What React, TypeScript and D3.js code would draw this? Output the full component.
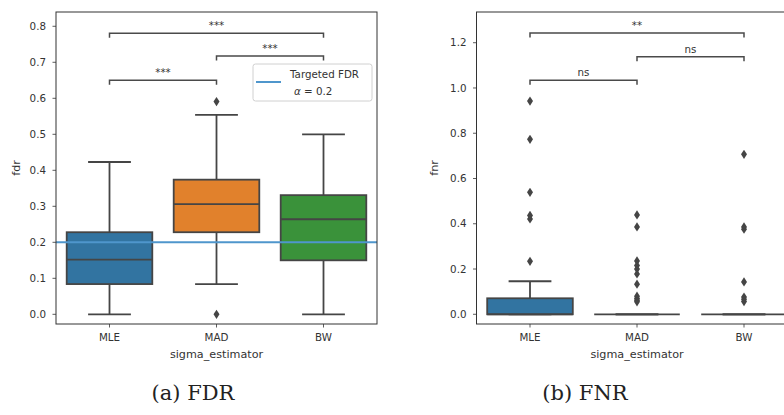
import React from "react";
import * as d3 from "d3";

// Estimators compared on the x axis
const categories = ["MLE", "MAD", "BW"];

// FDR box statistics per estimator
const fdrWhiskerLow = [0.0, 0.084, 0.0];
const fdrQ1 = [0.084, 0.228, 0.15];
const fdrMedian = [0.152, 0.306, 0.264];
const fdrQ3 = [0.228, 0.374, 0.331];
const fdrWhiskerHigh = [0.423, 0.554, 0.5];
const fdrOutliers = [[], [0.591, 0.0], []];
const fdrTicks = [0, 0.1, 0.2, 0.3, 0.4, 0.5, 0.6, 0.7, 0.8];
const fdrTarget = 0.2;

// FNR box statistics per estimator
const fnrWhiskerLow = [0.0, 0.0, 0.0];
const fnrQ1 = [0.0, 0.0, 0.0];
const fnrMedian = [0.0, 0.0, 0.0];
const fnrQ3 = [0.0707, 0.0, 0.0];
const fnrWhiskerHigh = [0.146, 0.0, 0.0];
const fnrOutliers = [
  [0.942, 0.773, 0.539, 0.437, 0.421, 0.234],
  [0.439, 0.386, 0.236, 0.216, 0.2, 0.178, 0.133, 0.08, 0.07, 0.062, 0.055],
  [0.707, 0.386, 0.376, 0.143, 0.076, 0.066, 0.056],
];
const fnrTicks = [0, 0.2, 0.4, 0.6, 0.8, 1.0, 1.2];

// Significance brackets: pairs of category indexes, labels and heights
const fdrPairs = [[0, 1], [1, 2], [0, 2]];
const fdrPairLabels = ["***", "***", "***"];
const fdrPairLevels = [0.65, 0.7175, 0.781];
const fnrPairs = [[0, 1], [1, 2], [0, 2]];
const fnrPairLabels = ["ns", "ns", "**"];
const fnrPairLevels = [1.034, 1.138, 1.243];

const palette = ["#3274a1", "#e1812c", "#3a923a"];
const lineGray = "#454545";
const axisColor = "#333333";
const textColor = "#333333";
const refBlue = "#4f96cc";
const sansFont = "'DejaVu Sans', sans-serif";
const tickSize = 10.3;
const labelSize = 11.2;

type PanelProps = {
  x0: number;
  x1: number;
  y0: number;
  y1: number;
  yDomain: [number, number];
  ticks: number[];
  lo: number[];
  q1: number[];
  med: number[];
  q3: number[];
  hi: number[];
  outliers: number[][];
  pairs: number[][];
  pairLabels: string[];
  pairLevels: number[];
  yLabel: string;
  yLabelX: number;
  target?: number;
};

function diamondPath(cx: number, cy: number) {
  const w = 3;
  const h = 4.6;
  return `M${cx},${cy - h}L${cx + w},${cy}L${cx},${cy + h}L${cx - w},${cy}Z`;
}

function Panel(p: PanelProps) {
  const x = d3.scaleBand<string>().domain(categories).range([p.x0, p.x1]).padding(0);
  const y = d3.scaleLinear().domain(p.yDomain).range([p.y1, p.y0]);
  const bw = x.bandwidth();
  const boxW = bw * 0.8;
  const capW = bw * 0.4;
  const cx = (i: number) => (x(categories[i]) as number) + bw / 2;
  const fmt = d3.format(".1f");
  const clipId = `clip-${p.yLabel}`;

  return (
    <g>
      <defs>
        <clipPath id={clipId}>
          <rect x={p.x0} y={p.y0} width={p.x1 - p.x0} height={p.y1 - p.y0} />
        </clipPath>
      </defs>

      {/* boxes, whiskers, medians */}
      <g clipPath={`url(#${clipId})`}>
        {categories.map((c, i) => {
          const xc = cx(i);
          return (
            <g key={c}>
              <line x1={xc} x2={xc} y1={y(p.q3[i])} y2={y(p.hi[i])} stroke={lineGray} strokeWidth={1.8} />
              <line x1={xc} x2={xc} y1={y(p.q1[i])} y2={y(p.lo[i])} stroke={lineGray} strokeWidth={1.8} />
              <line x1={xc - capW / 2} x2={xc + capW / 2} y1={y(p.hi[i])} y2={y(p.hi[i])} stroke={lineGray} strokeWidth={1.8} />
              <line x1={xc - capW / 2} x2={xc + capW / 2} y1={y(p.lo[i])} y2={y(p.lo[i])} stroke={lineGray} strokeWidth={1.8} />
              <rect
                x={xc - boxW / 2}
                y={y(p.q3[i])}
                width={boxW}
                height={Math.max(0, y(p.q1[i]) - y(p.q3[i]))}
                fill={palette[i]}
                stroke={lineGray}
                strokeWidth={1.8}
              />
              <line x1={xc - boxW / 2} x2={xc + boxW / 2} y1={y(p.med[i])} y2={y(p.med[i])} stroke={lineGray} strokeWidth={1.8} />
              {p.outliers[i].map((v, k) => (
                <path key={k} d={diamondPath(xc, y(v))} fill={lineGray} />
              ))}
            </g>
          );
        })}
        {p.target !== undefined && (
          <line x1={p.x0} x2={p.x1} y1={y(p.target)} y2={y(p.target)} stroke={refBlue} strokeWidth={2} />
        )}
      </g>

      {/* spines */}
      <rect x={p.x0} y={p.y0} width={p.x1 - p.x0} height={p.y1 - p.y0} fill="none" stroke={axisColor} strokeWidth={1} />

      {/* y axis */}
      {p.ticks.map((t) => (
        <g key={t}>
          <line x1={p.x0 - 3.5} x2={p.x0} y1={y(t)} y2={y(t)} stroke={axisColor} strokeWidth={0.8} />
          <text x={p.x0 - 10} y={y(t) + 3.7} textAnchor="end" fontSize={tickSize} fontFamily={sansFont} fill={textColor}>
            {fmt(t)}
          </text>
        </g>
      ))}
      <text
        transform={`translate(${p.yLabelX},${(p.y0 + p.y1) / 2}) rotate(-90)`}
        textAnchor="middle"
        fontSize={labelSize}
        fontFamily={sansFont}
        fill={textColor}
      >
        {p.yLabel}
      </text>

      {/* x axis */}
      {categories.map((c, i) => (
        <g key={c}>
          <line x1={cx(i)} x2={cx(i)} y1={p.y1} y2={p.y1 + 3.5} stroke={axisColor} strokeWidth={0.8} />
          <text x={cx(i)} y={p.y1 + 16.7} textAnchor="middle" fontSize={tickSize} fontFamily={sansFont} fill={textColor}>
            {c}
          </text>
        </g>
      ))}
      <text x={(p.x0 + p.x1) / 2} y={p.y1 + 34} textAnchor="middle" fontSize={labelSize} fontFamily={sansFont} fill={textColor}>
        sigma_estimator
      </text>

      {/* significance brackets */}
      {p.pairs.map(([a, b], k) => {
        const yy = y(p.pairLevels[k]);
        const xa = cx(a);
        const xb = cx(b);
        return (
          <g key={k}>
            <path
              d={`M${xa},${yy + 4.5}L${xa},${yy}L${xb},${yy}L${xb},${yy + 4.5}`}
              fill="none"
              stroke="#4a4a4a"
              strokeWidth={1.5}
            />
            <text x={(xa + xb) / 2} y={yy - 4} textAnchor="middle" fontSize={tickSize} fontFamily={sansFont} fill={textColor}>
              {p.pairLabels[k]}
            </text>
          </g>
        );
      })}
    </g>
  );
}

export default function App() {
  return (
    <svg
      width={784}
      height={415}
      viewBox="0 0 784 415"
      style={{ position: "absolute", left: 0, top: 0, background: "#ffffff" }}
    >
      <rect width={784} height={415} fill="#ffffff" />
      <Panel
        x0={56}
        x1={377}
        y0={12}
        y1={324}
        yDomain={[-0.0269, 0.8397]}
        ticks={fdrTicks}
        lo={fdrWhiskerLow}
        q1={fdrQ1}
        med={fdrMedian}
        q3={fdrQ3}
        hi={fdrWhiskerHigh}
        outliers={fdrOutliers}
        pairs={fdrPairs}
        pairLabels={fdrPairLabels}
        pairLevels={fdrPairLevels}
        yLabel="fdr"
        yLabelX={20}
        target={fdrTarget}
      />
      {/* legend for the target line */}
      <g>
        <rect x={253} y={64} width={119} height={37} rx={2.5} fill="#ffffff" fillOpacity={0.8} stroke="#d0d0d0" strokeWidth={1} />
        <line x1={256} x2={281} y1={82} y2={82} stroke={refBlue} strokeWidth={2} />
        <text x={290} y={78} fontSize={tickSize} fontFamily={sansFont} fill={textColor}>
          Targeted FDR
        </text>
        <text x={294} y={94.5} fontSize={tickSize} fontFamily={sansFont} fill={textColor}>
          <tspan fontStyle="italic">α</tspan>
          <tspan> = 0.2</tspan>
        </text>
      </g>
      <Panel
        x0={476.5}
        x1={797.5}
        y0={12}
        y1={324}
        yDomain={[-0.0429, 1.3357]}
        ticks={fnrTicks}
        lo={fnrWhiskerLow}
        q1={fnrQ1}
        med={fnrMedian}
        q3={fnrQ3}
        hi={fnrWhiskerHigh}
        outliers={fnrOutliers}
        pairs={fnrPairs}
        pairLabels={fnrPairLabels}
        pairLevels={fnrPairLevels}
        yLabel="fnr"
        yLabelX={438}
      />
      <text x={193} y={400} textAnchor="middle" fontSize={21} fontFamily="'DejaVu Serif', serif" fill="#222">
        (a) FDR
      </text>
      <text x={585} y={400} textAnchor="middle" fontSize={21} fontFamily="'DejaVu Serif', serif" fill="#222">
        (b) FNR
      </text>
    </svg>
  );
}
